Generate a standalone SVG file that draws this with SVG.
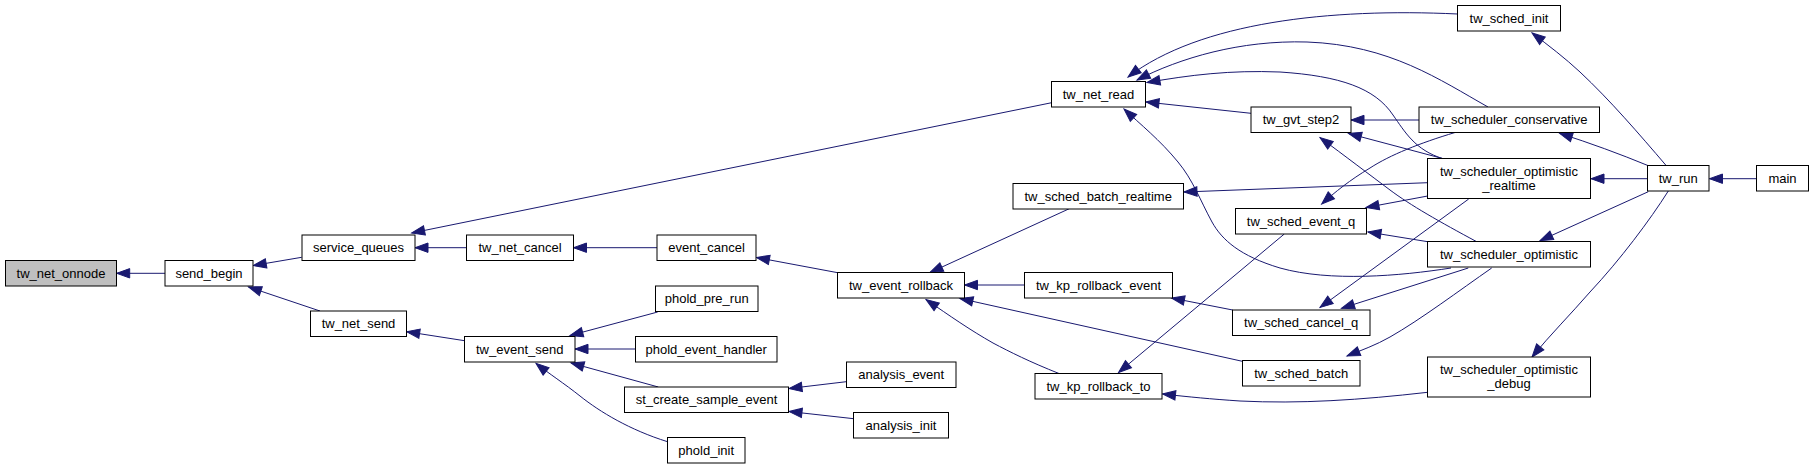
<svg xmlns="http://www.w3.org/2000/svg" width="1813" height="469" viewBox="0 0 1813 469">
<style>
.n rect{fill:#fff;stroke:#000;stroke-width:1}
.n.hl rect{fill:#bfbfbf}
.n text{font-family:"Liberation Sans",Arial,sans-serif;font-size:13px;text-anchor:middle;fill:#000}
#edges path{fill:none;stroke:#191970;stroke-width:1;marker-end:url(#ah)}
</style>
<defs>
<marker id="ah" markerUnits="userSpaceOnUse" markerWidth="16" markerHeight="12" refX="13" refY="5" orient="auto" overflow="visible">
<path d="M0,0.3 L13,5 L0,9.7 z" fill="#191970" stroke="#191970" stroke-width="1"/>
</marker>
</defs>
<rect width="1813" height="469" fill="#fff"/>
<g id="edges">
<path d="M165,273.3 L116.7,273.3"/>
<path d="M301.7,257.3 L253.3,265.5"/>
<path d="M320,311 L248.5,287"/>
<path d="M1051.7,102.7 L411.7,233"/>
<path d="M466.5,247.7 L415,247.7"/>
<path d="M657,247.7 L573.5,247.7"/>
<path d="M464.5,340.7 L406.7,331.7"/>
<path d="M837.7,272.7 L756.5,257.5"/>
<path d="M657.7,312 L570,335.5"/>
<path d="M635.5,349 L575,349"/>
<path d="M658.3,387 L571,363"/>
<path d="M667.5,441.7 C630,430 600,412 580,396 C565,384 548,373 536,363.3"/>
<path d="M846.3,381.7 L789,388.5"/>
<path d="M853.7,418.7 L789,411.5"/>
<path d="M1069.3,208.7 L930,272.5"/>
<path d="M1024.5,285 L964.5,285"/>
<path d="M1242.3,361.3 L960,298.5"/>
<path d="M1059,373.5 C1030,362 1010,352 993,343 C970,330 950,316 926,299.5"/>
<path d="M1457.7,14 C1330,8 1200,22 1128,77"/>
<path d="M1488,107 C1440,80 1390,45 1307,42 C1240,40 1180,58 1137,80"/>
<path d="M1443,158.7 C1415,150 1405,132 1393,115 C1375,88 1340,76 1280,72 C1230,70 1190,75 1147,82.5"/>
<path d="M1251,113.3 L1146,102"/>
<path d="M1451,268 C1400,276 1330,282 1280,268 C1240,256 1222,240 1212,222 C1200,200 1193,180 1178,162 C1160,140 1140,124 1124,109"/>
<path d="M1419,120 L1351,120"/>
<path d="M1443.3,158.7 L1348.5,133.5"/>
<path d="M1476.7,241.7 C1440,222 1410,205 1390,190 C1370,175 1345,156 1320,137.5"/>
<path d="M1427.7,182.7 L1184,192"/>
<path d="M1455,132.5 C1420,143 1390,155 1370,168 C1350,180 1335,192 1321.7,204"/>
<path d="M1427.7,196 L1366,207.5"/>
<path d="M1427.7,241.7 L1368,232"/>
<path d="M1284.3,234 L1118.5,372.5"/>
<path d="M1232.7,310 L1171.5,298"/>
<path d="M1468.7,199 L1320,307.5"/>
<path d="M1468.3,268 L1341.5,308.3"/>
<path d="M1491.7,268 C1460,290 1420,320 1390,337 C1376,345 1362,350 1347,356"/>
<path d="M1427.7,392.3 C1360,400 1300,404 1240,401 C1210,399 1190,397 1162.5,394"/>
<path d="M1665.7,165 C1640,135 1610,100 1580,72 C1565,58 1548,45 1532,33"/>
<path d="M1648.3,165.7 C1620,154 1590,143 1559.5,133.3"/>
<path d="M1647.7,178.7 L1591,178.7"/>
<path d="M1648.3,191.7 L1540,240.7"/>
<path d="M1668.3,191 C1650,220 1620,260 1590,292 C1570,315 1550,335 1532,357"/>
<path d="M1756.7,178.7 L1709.5,178.7"/>
</g>
<g id="tw_net_onnode" class="n hl"><rect x="5.5" y="260.5" width="111" height="25.5"/><text x="61" y="277.7">tw_net_onnode</text></g>
<g id="send_begin" class="n"><rect x="165" y="260.5" width="88" height="25.5"/><text x="209" y="277.7">send_begin</text></g>
<g id="service_queues" class="n"><rect x="302" y="235" width="113" height="25.5"/><text x="358.5" y="252.2">service_queues</text></g>
<g id="tw_net_cancel" class="n"><rect x="466.5" y="235" width="107" height="25.5"/><text x="520" y="252.2">tw_net_cancel</text></g>
<g id="tw_net_send" class="n"><rect x="310.5" y="311" width="96" height="25.5"/><text x="358.5" y="328.2">tw_net_send</text></g>
<g id="tw_event_send" class="n"><rect x="464.5" y="336.5" width="110.5" height="25.5"/><text x="519.7" y="353.7">tw_event_send</text></g>
<g id="tw_net_read" class="n"><rect x="1051.5" y="81.5" width="94" height="25.5"/><text x="1098.5" y="98.7">tw_net_read</text></g>
<g id="event_cancel" class="n"><rect x="657" y="235" width="99" height="25.5"/><text x="706.5" y="252.2">event_cancel</text></g>
<g id="phold_pre_run" class="n"><rect x="655.5" y="286" width="102.5" height="25.5"/><text x="706.7" y="303.2">phold_pre_run</text></g>
<g id="phold_event_handler" class="n"><rect x="635.5" y="336.5" width="141.5" height="25.5"/><text x="706.2" y="353.7">phold_event_handler</text></g>
<g id="st_create_sample_event" class="n"><rect x="624.5" y="387" width="164" height="25.5"/><text x="706.5" y="404.2">st_create_sample_event</text></g>
<g id="phold_init" class="n"><rect x="667.5" y="437.5" width="77.5" height="25.5"/><text x="706.2" y="454.7">phold_init</text></g>
<g id="tw_event_rollback" class="n"><rect x="837.5" y="272.5" width="127" height="25.5"/><text x="901" y="289.7">tw_event_rollback</text></g>
<g id="analysis_event" class="n"><rect x="846.5" y="362" width="109.5" height="25.5"/><text x="901.2" y="379.2">analysis_event</text></g>
<g id="analysis_init" class="n"><rect x="853.5" y="412.5" width="95" height="25.5"/><text x="901" y="429.7">analysis_init</text></g>
<g id="tw_sched_batch_realtime" class="n"><rect x="1013" y="183.5" width="170.5" height="25.5"/><text x="1098.2" y="200.7">tw_sched_batch_realtime</text></g>
<g id="tw_kp_rollback_event" class="n"><rect x="1024.5" y="272.5" width="148" height="25.5"/><text x="1098.5" y="289.7">tw_kp_rollback_event</text></g>
<g id="tw_kp_rollback_to" class="n"><rect x="1035" y="373.5" width="127" height="25.5"/><text x="1098.5" y="390.7">tw_kp_rollback_to</text></g>
<g id="tw_gvt_step2" class="n"><rect x="1251" y="107" width="100" height="25.5"/><text x="1301" y="124.2">tw_gvt_step2</text></g>
<g id="tw_sched_event_q" class="n"><rect x="1235.5" y="208.5" width="131" height="25.5"/><text x="1301" y="225.7">tw_sched_event_q</text></g>
<g id="tw_sched_cancel_q" class="n"><rect x="1232.5" y="310" width="137.5" height="25.5"/><text x="1301.2" y="327.2">tw_sched_cancel_q</text></g>
<g id="tw_sched_batch" class="n"><rect x="1242.5" y="360.5" width="117.5" height="25.5"/><text x="1301.2" y="377.7">tw_sched_batch</text></g>
<g id="tw_sched_init" class="n"><rect x="1457.5" y="5.5" width="103" height="25.5"/><text x="1509" y="22.7">tw_sched_init</text></g>
<g id="tw_scheduler_conservative" class="n"><rect x="1419" y="107" width="180.5" height="25.5"/><text x="1509.2" y="124.2">tw_scheduler_conservative</text></g>
<g id="tw_scheduler_optimistic_realtime" class="n"><rect x="1427.5" y="158.5" width="163" height="40"/><text x="1509" y="175.5">tw_scheduler_optimistic</text><text x="1509" y="189.5">_realtime</text></g>
<g id="tw_scheduler_optimistic" class="n"><rect x="1427.5" y="241.5" width="163" height="25.5"/><text x="1509" y="258.7">tw_scheduler_optimistic</text></g>
<g id="tw_scheduler_optimistic_debug" class="n"><rect x="1427.5" y="357" width="163" height="40"/><text x="1509" y="374">tw_scheduler_optimistic</text><text x="1509" y="388">_debug</text></g>
<g id="tw_run" class="n"><rect x="1647.5" y="165.5" width="61.5" height="25.5"/><text x="1678.2" y="182.7">tw_run</text></g>
<g id="main" class="n"><rect x="1756.5" y="165.5" width="52" height="25.5"/><text x="1782.5" y="182.7">main</text></g>
</svg>
